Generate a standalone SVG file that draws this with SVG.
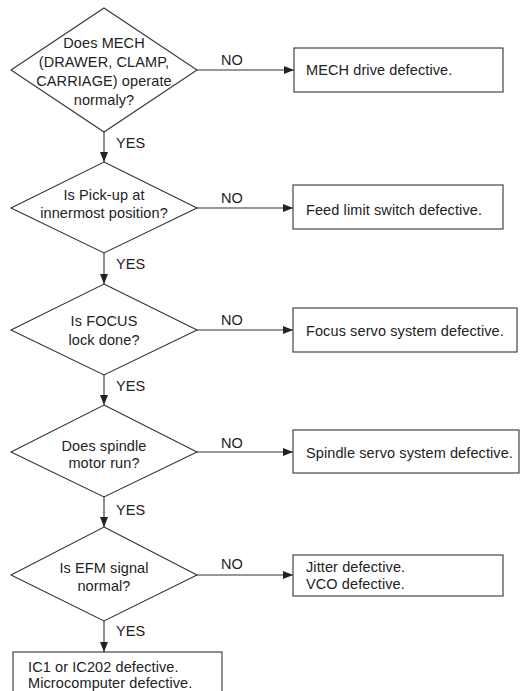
<svg xmlns="http://www.w3.org/2000/svg" width="520" height="691" viewBox="0 0 520 691">
<style>
.shape{fill:#fff;stroke:#333;stroke-width:1.1}
.t{font-family:"Liberation Sans",Arial,sans-serif;font-size:14.5px;fill:#222;letter-spacing:0.1px}
.c{text-anchor:middle}
.ln{stroke:#333;stroke-width:1.1;fill:none}
</style>
<defs>
<marker id="ah" markerWidth="10" markerHeight="8" refX="10" refY="4" orient="auto" markerUnits="userSpaceOnUse">
<path d="M0,0 L10,4 L0,8 Z" fill="#222"/>
</marker>
</defs>
<rect width="520" height="691" fill="#fff"/>
<g id="connectors">
<line class="ln" x1="104" y1="132" x2="104" y2="162" marker-end="url(#ah)"/>
<line class="ln" x1="104" y1="253" x2="104" y2="284" marker-end="url(#ah)"/>
<line class="ln" x1="104" y1="375" x2="104" y2="405" marker-end="url(#ah)"/>
<line class="ln" x1="104" y1="497" x2="104" y2="527" marker-end="url(#ah)"/>
<line class="ln" x1="104" y1="621" x2="104" y2="652" marker-end="url(#ah)"/>
<line class="ln" x1="197" y1="70" x2="294" y2="70" marker-end="url(#ah)"/>
<line class="ln" x1="197" y1="208" x2="293" y2="208" marker-end="url(#ah)"/>
<line class="ln" x1="197" y1="330" x2="293" y2="330" marker-end="url(#ah)"/>
<line class="ln" x1="197" y1="452" x2="293" y2="452" marker-end="url(#ah)"/>
<line class="ln" x1="197" y1="575" x2="293" y2="575" marker-end="url(#ah)"/>
<text class="t" x="116" y="148">YES</text>
<text class="t" x="116" y="269">YES</text>
<text class="t" x="116" y="391">YES</text>
<text class="t" x="116" y="515">YES</text>
<text class="t" x="116" y="636">YES</text>
<text class="t c" x="232" y="65">NO</text>
<text class="t c" x="232" y="203">NO</text>
<text class="t c" x="232" y="325">NO</text>
<text class="t c" x="232" y="448">NO</text>
<text class="t c" x="232" y="569">NO</text>
</g>
<g id="d1">
<polygon class="shape" points="104,8 197,70 104,132 11,70"/>
<text class="t c" x="104" y="48">Does MECH</text>
<text class="t c" x="104" y="67">(DRAWER, CLAMP,</text>
<text class="t c" x="104" y="86">CARRIAGE) operate</text>
<text class="t c" x="104" y="105">normaly?</text>
</g>
<g id="b1">
<rect class="shape" x="294" y="48" width="209" height="44"/>
<text class="t" x="306" y="75">MECH drive defective.</text>
</g>
<g id="d2">
<polygon class="shape" points="104,162 197,208 104,253 11,208"/>
<text class="t c" x="104" y="200">Is Pick-up at</text>
<text class="t c" x="104" y="218">innermost position?</text>
</g>
<g id="b2">
<rect class="shape" x="293" y="185" width="210" height="44"/>
<text class="t" x="306" y="215">Feed limit switch defective.</text>
</g>
<g id="d3">
<polygon class="shape" points="104,284 197,330 104,375 11,330"/>
<text class="t c" x="104" y="326">Is FOCUS</text>
<text class="t c" x="104" y="345">lock done?</text>
</g>
<g id="b3">
<rect class="shape" x="293" y="308" width="224" height="44"/>
<text class="t" x="306" y="336">Focus servo system defective.</text>
</g>
<g id="d4">
<polygon class="shape" points="104,405 197,452 104,497 11,452"/>
<text class="t c" x="104" y="451">Does spindle</text>
<text class="t c" x="104" y="468">motor run?</text>
</g>
<g id="b4">
<rect class="shape" x="293" y="430" width="226" height="43"/>
<text class="t" x="306" y="458">Spindle servo system defective.</text>
</g>
<g id="d5">
<polygon class="shape" points="104,527 197,575 104,621 11,575"/>
<text class="t c" x="104" y="573">Is EFM signal</text>
<text class="t c" x="104" y="591">normal?</text>
</g>
<g id="b5">
<rect class="shape" x="293" y="555" width="210" height="41"/>
<text class="t" x="306" y="572">Jitter defective.</text>
<text class="t" x="306" y="589">VCO defective.</text>
</g>
<g id="b6">
<rect class="shape" x="13" y="652" width="209" height="50"/>
<text class="t" x="28" y="672">IC1 or IC202 defective.</text>
<text class="t" x="28" y="688">Microcomputer defective.</text>
</g>
</svg>
